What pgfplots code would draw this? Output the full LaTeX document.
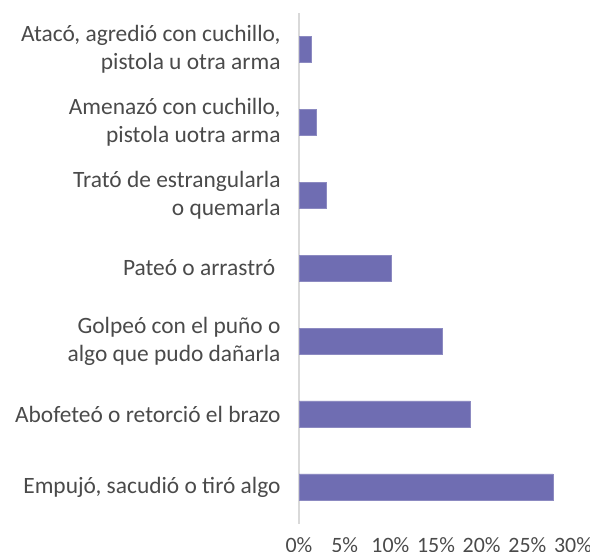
\documentclass[border=0pt]{standalone}
\usepackage{fontspec}
\setmainfont{Carlito}
\usepackage{pgfplots}
\pgfplotsset{compat=1.18}
\definecolor{barc}{HTML}{6F6DB2}
\definecolor{lbl}{HTML}{4A4A4A}
\begin{document}
\begin{tikzpicture}
\path[use as bounding box] (0,0) rectangle (590bp,552bp);
\begin{axis}[
  at={(299bp,28.5bp)}, anchor=south west,
  scale only axis, width=274bp, height=511bp,
  xmin=0, xmax=30, ymin=-0.5, ymax=6.5,
  xbar, bar width=26bp,
  axis lines*=left,
  x axis line style={draw=none},
  y axis line style={draw=black!15, line width=1.5bp},
  tick style={draw=none},
  xtick={0,5,10,15,20,25,30},
  xticklabels={0\%,5\%,10\%,15\%,20\%,25\%,30\%},
  ytick={0,1,2,3,4,5,6},
  yticklabels={{Empujó, sacudió o tiró algo},
               {Abofeteó o retorció el brazo},
               {Golpeó con el puño o~\\algo que pudo dañarla},
               {Pateó o arrastró~},
               {Trató de estrangularla~\\o quemarla},
               {Amenazó con cuchillo,\\pistola uotra arma},
               {Atacó, agredió con cuchillo,\\pistola u otra arma}},
  tick label style={text=lbl, inner sep=0pt},
  yticklabel style={font=\fontsize{23.5}{28}\selectfont, align=right, xshift=-14bp},
  xticklabel style={font=\fontsize{22}{26}\selectfont, yshift=-14bp},
]
\addplot[fill=barc, draw=barc!80!white, line width=0.5bp] coordinates {
  (27.8,0) (18.7,1) (15.7,2) (10.1,3) (3.0,4) (1.9,5) (1.3,6)
};
\end{axis}
\end{tikzpicture}
\end{document}
